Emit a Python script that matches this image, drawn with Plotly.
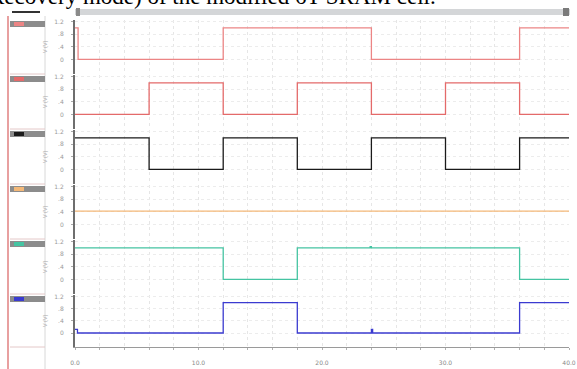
import plotly.graph_objects as go
from plotly.subplots import make_subplots

# ---- data (time in ns, logic levels in V) ----
t_edges = [0, 6, 12, 18, 24, 30, 36, 40]
sig1_t = [0, 0.25, 12, 24, 36, 40]
sig1_v = [1.0, 0.0, 1.0, 0.0, 1.0, 1.0]
sig2_v = [0.0, 1.0, 0.0, 1.0, 0.0, 1.0, 0.0, 0.0]
sig3_v = [1.0, 0.0, 1.0, 0.0, 1.0, 0.0, 1.0, 1.0]
sig4_t = [0, 40]
sig4_v = [0.42, 0.42]
sig5_t = [0, 12, 18, 23.9, 24.0, 24.1, 36, 40]
sig5_v = [1.0, 0.0, 1.0, 1.04, 1.0, 1.0, 0.0, 0.0]
sig6_t = [0, 0.2, 12, 18, 23.9, 24.0, 24.1, 36, 40]
sig6_v = [0.12, 0.0, 1.0, 0.0, 0.0, 0.12, 0.0, 1.0, 1.0]

x_ticks = [0, 10, 20, 30, 40]
x_labels = ["0.0", "10.0", "20.0", "30.0", "40.0"]
y_ticks = [1.2, 0.8, 0.4, 0.0]
y_labels = ["1.2", ".8", ".4", "0"]

colors = ["#ec8585", "#e46a6a", "#1a1a1a", "#f4b878", "#45c4a2", "#3b3bd0"]
series = [
    (sig1_t, sig1_v), (t_edges, sig2_v), (t_edges, sig3_v),
    (sig4_t, sig4_v), (sig5_t, sig5_v), (sig6_t, sig6_v),
]

fig = make_subplots(rows=6, cols=1, shared_xaxes=True, vertical_spacing=0)

# pixel layout helpers
W, H = 577, 369
L, R, T, B = 75, 8, 18, 21
pw, ph = W - L - R, H - T - B
def px(x):
    return (x - L) / pw
def py(y):
    return (H - B - y) / ph

bounds = [(20, 75), (75, 130), (130, 185), (185, 240), (240, 295), (295, 348)]

for i, ((tx, vy), c) in enumerate(zip(series, colors)):
    r = i + 1
    fig.add_trace(go.Scatter(x=tx, y=vy, mode="lines",
                             line=dict(color=c, width=1.3, shape="linear" if i == 3 else "hv"),
                             showlegend=False, hoverinfo="skip"), row=r, col=1)
    top, bot = bounds[i]
    yname = "yaxis" if r == 1 else f"yaxis{r}"
    fig.layout[yname].update(
        domain=[py(bot) + 0.004, py(top)],
        range=[-0.45, 1.25], tickvals=y_ticks, ticktext=y_labels,
        tickfont=dict(size=6, color="#9a9a9a", family="DejaVu Sans"),
        showline=True, linecolor="#6e6e6e", linewidth=2,
        showgrid=True, gridcolor="#ececec", griddash="dot", zeroline=False,
        ticks="outside", ticklen=2, tickcolor="#aaaaaa", automargin=False,
        ticklabelstandoff=6,
        title=dict(text="V (V)", font=dict(size=6, color="#aaaaaa"), standoff=6),
    )
    xname = "xaxis" if r == 1 else f"xaxis{r}"
    fig.layout[xname].update(
        range=[0, 40], showgrid=True, gridcolor="#e6e6e6", griddash="dot",
        zeroline=False, showticklabels=(r == 6), automargin=False,
        showline=(r == 6), linecolor="#9a9a9a",
    )

fig.update_xaxes(tickvals=[t for t in range(0, 41, 2)],
                 ticktext=[x_labels[x_ticks.index(t)] if t in x_ticks else "" for t in range(0, 41, 2)])
fig.update_xaxes(tickfont=dict(size=6, color="#888888", family="DejaVu Sans"),
                 ticks="outside", ticklen=2, tickcolor="#b0b0b0", ticklabelstandoff=8, row=6, col=1)

shapes = []
# left pink border line
shapes.append(dict(type="line", xref="paper", yref="paper", x0=px(8), x1=px(8), y0=py(369), y1=py(16),
                   line=dict(color="#e8a0a0", width=2)))
shapes.append(dict(type="line", xref="paper", yref="paper", x0=px(45), x1=px(45), y0=py(369), y1=py(16),
                   line=dict(color="#d8d8d8", width=1)))
# top scrollbar
shapes.append(dict(type="rect", xref="paper", yref="paper", x0=px(75), x1=px(570), y0=py(15), y1=py(9),
                   fillcolor="#d4d6d8", line=dict(width=0)))
shapes.append(dict(type="rect", xref="paper", yref="paper", x0=px(76), x1=px(80), y0=py(16), y1=py(8),
                   fillcolor="#8a8a8a", line=dict(width=0)))
shapes.append(dict(type="rect", xref="paper", yref="paper", x0=px(563), x1=px(569), y0=py(16), y1=py(8),
                   fillcolor="#7a7a7a", line=dict(width=0)))
# small black bar top-left
shapes.append(dict(type="rect", xref="paper", yref="paper", x0=px(12), x1=px(40), y0=py(13), y1=py(11),
                   fillcolor="#333333", line=dict(width=0)))
# legend chips for each panel
for (top, bot), c in zip(bounds, colors):
    shapes.append(dict(type="rect", xref="paper", yref="paper", x0=px(10), x1=px(45), y0=py(top + 7), y1=py(top + 1),
                       fillcolor="#8c8c8c", line=dict(width=0)))
    shapes.append(dict(type="rect", xref="paper", yref="paper", x0=px(14), x1=px(24), y0=py(top + 6), y1=py(top + 2),
                       fillcolor=c, line=dict(width=0)))
    shapes.append(dict(type="line", xref="paper", yref="paper", x0=px(10), x1=px(45), y0=py(bot - 1), y1=py(bot - 1),
                       line=dict(color="#e4c8c8", width=1)))

fig.update_layout(
    width=W, height=H,
    margin=dict(l=L, r=R, t=T, b=B, autoexpand=False),
    paper_bgcolor="white", plot_bgcolor="white",
    shapes=shapes,
    annotations=[dict(text="Recovery mode) of the modified 6T SRAM cell.", xref="paper", yref="paper",
                      x=px(-13), y=py(-3), xanchor="left", yanchor="middle", showarrow=False,
                      font=dict(family="Liberation Serif", size=23, color="black"))],
)

fig.write_html("out.html", config={"displayModeBar": False},
               post_script="document.body.style.margin='0';document.body.style.overflow='hidden';")
